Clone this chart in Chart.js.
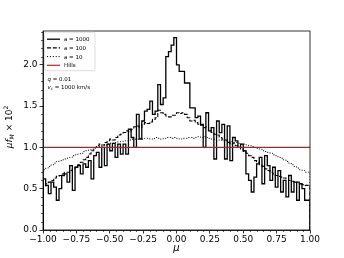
<!DOCTYPE html>
<html>
<head>
<meta charset="utf-8">
<script src="https://cdn.jsdelivr.net/npm/chart.js@4/dist/chart.umd.min.js"></script>
<style>
  html, body { margin: 0; padding: 0; background: #fff; }
</style>
</head>
<body>
<canvas id="histChart" width="344" height="258"></canvas>
<script>
// histogramas de mu (100 bins entre -1 y 1)
const seriesLabels = ['a = 1000', 'a = 100', 'a = 10', 'Hills'];
const xTickValues = [-1, -0.75, -0.5, -0.25, 0, 0.25, 0.5, 0.75, 1];
const yTickValues = [0, 0.5, 1.0, 1.5, 2.0];
const noteLines = ['q = 0.01', 'v_c = 1000 km/s'];

const a1000 = [
    0.50, 0.62, 0.54, 0.44, 0.58, 0.52, 0.36, 0.50, 0.66, 0.68,
    0.58, 0.78, 0.48, 0.76, 0.78, 0.68, 0.80, 0.76, 0.84, 0.62,
    0.90, 0.94, 0.76, 1.00, 0.78, 1.04, 0.96, 1.05, 0.88, 1.04,
    0.92, 1.04, 0.92, 1.22, 1.12, 1.00, 1.40, 1.10, 1.32, 1.44,
    1.46, 1.56, 1.40, 1.44, 1.76, 1.52, 1.60, 2.10, 2.16, 2.24,
    2.33, 2.00, 1.92, 1.92, 1.78, 1.78, 1.48, 1.48, 1.36, 1.38,
    1.28, 1.00, 1.42, 1.20, 1.24, 0.86, 1.32, 1.18, 1.28, 0.86,
    1.26, 0.84, 1.12, 1.08, 1.00, 1.04, 0.96, 0.68, 0.60, 0.46,
    0.64, 0.80, 0.88, 0.56, 0.90, 0.78, 0.60, 0.76, 0.52, 0.72,
    0.46, 0.60, 0.40, 0.66, 0.46, 0.58, 0.36, 0.56, 0.50, 0.36
];
const a100 = [
    0.50, 0.53, 0.56, 0.58, 0.60, 0.63, 0.65, 0.66, 0.68, 0.70,
    0.70, 0.72, 0.74, 0.76, 0.79, 0.82, 0.85, 0.88, 0.92, 0.96,
    1.00, 1.02, 1.04, 1.03, 1.06, 1.08, 1.10, 1.09, 1.12, 1.15,
    1.16, 1.18, 1.20, 1.19, 1.22, 1.25, 1.26, 1.24, 1.28, 1.30,
    1.29, 1.31, 1.34, 1.36, 1.45, 1.42, 1.40, 1.38, 1.37, 1.39,
    1.39, 1.42, 1.41, 1.42, 1.40, 1.36, 1.32, 1.33, 1.30, 1.28,
    1.27, 1.24, 1.25, 1.20, 1.18, 1.16, 1.15, 1.12, 1.10, 1.09,
    1.06, 1.04, 1.05, 1.02, 1.00, 0.98, 0.95, 0.93, 0.90, 0.88,
    0.84, 0.82, 0.79, 0.77, 0.74, 0.72, 0.70, 0.68, 0.66, 0.65,
    0.64, 0.63, 0.62, 0.60, 0.59, 0.58, 0.58, 0.56, 0.55, 0.54
];
const a10 = [
    0.70, 0.73, 0.75, 0.77, 0.79, 0.81, 0.83, 0.84, 0.85, 0.86,
    0.87, 0.88, 0.90, 0.91, 0.92, 0.93, 0.95, 0.96, 0.97, 0.98,
    0.99, 1.00, 1.01, 1.02, 1.03, 1.04, 1.05, 1.05, 1.06, 1.07,
    1.07, 1.08, 1.08, 1.09, 1.10, 1.10, 1.10, 1.11, 1.10, 1.11,
    1.11, 1.10, 1.11, 1.12, 1.11, 1.10, 1.11, 1.12, 1.12, 1.11,
    1.12, 1.11, 1.10, 1.11, 1.11, 1.12, 1.12, 1.11, 1.12, 1.13,
    1.12, 1.13, 1.12, 1.11, 1.10, 1.10, 1.09, 1.09, 1.08, 1.08,
    1.07, 1.07, 1.06, 1.06, 1.05, 1.04, 1.04, 1.03, 1.02, 1.01,
    1.00, 0.99, 0.98, 0.96, 0.95, 0.94, 0.93, 0.91, 0.90, 0.88,
    0.87, 0.85, 0.83, 0.81, 0.79, 0.77, 0.75, 0.73, 0.72, 0.70
];
const hillsLevel = [1.0, 1.0];

const FONT = 'DejaVu Sans';
const nBins = a1000.length;
const binEdges = Array.from({ length: nBins + 1 }, (_, i) => -1 + i * 2 / nBins);

// histograma tipo "step" que baja a cero en los extremos
function toSteps(values) {
    const pts = [{ x: binEdges[0], y: 0 }];
    values.forEach((v, i) => pts.push({ x: binEdges[i], y: v }));
    pts.push({ x: binEdges[nBins], y: values[values.length - 1] });
    pts.push({ x: binEdges[nBins], y: 0 });
    return pts;
}

function fmt(v, d) {
    const s = Math.abs(v).toFixed(d);
    return v < -1e-9 ? '\u2212' + s : s;
}

const styles = [
    { color: '#000', width: 1.3, dash: [] },
    { color: '#000', width: 1.1, dash: [4, 1.8] },
    { color: '#000', width: 1.0, dash: [1.1, 1.8] },
    { color: '#ff0000', width: 1.2, dash: [] }
];

// marcas menores, marco completo, etiquetas de ejes, leyenda y nota
const decorPlugin = {
    id: 'decor',
    afterDraw(chart) {
        const ctx = chart.ctx;
        const { left, right, top, bottom } = chart.chartArea;
        const xs = chart.scales.x, ys = chart.scales.y;
        ctx.save();
        ctx.strokeStyle = '#000';
        ctx.lineWidth = 0.8;
        ctx.strokeRect(left, top, right - left, bottom - top);

        ctx.lineWidth = 0.6;
        ctx.beginPath();
        for (let k = 0; k <= 40; k++) {
            if (k % 5 === 0) continue;
            const px = Math.round(xs.getPixelForValue(-1 + k * 0.05)) + 0.5;
            ctx.moveTo(px, bottom); ctx.lineTo(px, bottom + 2);
        }
        for (let k = 1; k <= 24; k++) {
            if (k % 5 === 0) continue;
            const py = Math.round(ys.getPixelForValue(k * 0.1)) + 0.5;
            ctx.moveTo(left, py); ctx.lineTo(left - 2, py);
        }
        ctx.stroke();

        ctx.fillStyle = '#000';
        ctx.textBaseline = 'alphabetic';

        // etiqueta x
        ctx.font = 'italic 10px ' + FONT;
        ctx.textAlign = 'center';
        ctx.fillText('\u03bc', (left + right) / 2, 251);

        // etiqueta y: mu f_M x 10^2
        const parts = [
            { t: '\u03bcf', f: 'italic 9px ' + FONT, dy: 0 },
            { t: 'M', f: 'italic 6px ' + FONT, dy: 2 },
            { t: ' \u00d7 10', f: '9px ' + FONT, dy: 0 },
            { t: '2', f: '6px ' + FONT, dy: -4 }
        ];
        ctx.textAlign = 'left';
        let total = 0;
        parts.forEach(p => { ctx.font = p.f; p.w = ctx.measureText(p.t).width; total += p.w; });
        ctx.translate(11.5, 127);
        ctx.rotate(-Math.PI / 2);
        let cx = -total / 2;
        parts.forEach(p => { ctx.font = p.f; ctx.fillText(p.t, cx, p.dy); cx += p.w; });
        ctx.setTransform(1, 0, 0, 1, 0, 0);

        // leyenda
        const bx = left + 1.5, by = top + 1.2, bw = 50.5, bh = 38.5;
        ctx.beginPath();
        ctx.roundRect(bx, by, bw, bh, 2);
        ctx.fillStyle = 'rgba(255,255,255,0.85)';
        ctx.fill();
        ctx.strokeStyle = '#d0d0d0';
        ctx.lineWidth = 0.7;
        ctx.stroke();
        ctx.font = '5.5px ' + FONT;
        seriesLabels.forEach((lab, i) => {
            const y = by + 7 + i * 8.7;
            const st = styles[i];
            ctx.strokeStyle = st.color;
            ctx.lineWidth = st.width;
            ctx.setLineDash(st.dash);
            ctx.beginPath();
            ctx.moveTo(bx + 2.5, y); ctx.lineTo(bx + 15.5, y);
            ctx.stroke();
            ctx.setLineDash([]);
            ctx.fillStyle = '#000';
            ctx.fillText(lab, bx + 19.5, y + 2);
        });

        // nota q, v_c
        const nx = left + 4.5;
        ctx.font = 'italic 5.5px ' + FONT;
        ctx.fillText('q', nx, 80.5);
        let w = ctx.measureText('q').width;
        ctx.font = '5.5px ' + FONT;
        ctx.fillText(noteLines[0].slice(1), nx + w, 80.5);
        ctx.font = 'italic 5.5px ' + FONT;
        ctx.fillText('v', nx, 89);
        w = ctx.measureText('v').width;
        ctx.font = '4px ' + FONT;
        ctx.fillText('c', nx + w, 90.2);
        w += ctx.measureText('c').width;
        ctx.font = '5.5px ' + FONT;
        ctx.fillText(noteLines[1].slice(3), nx + w, 89);
        ctx.restore();
    }
};

const seriesData = [a1000, a100, a10];
const datasets = seriesData.map((vals, i) => ({
    label: seriesLabels[i],
    data: toSteps(vals),
    stepped: 'after',
    borderColor: styles[i].color,
    borderWidth: styles[i].width,
    borderDash: styles[i].dash,
    pointRadius: 0,
    fill: false,
    order: i + 1
}));
datasets.push({
    label: seriesLabels[3],
    data: hillsLevel.map((v, i) => ({ x: i === 0 ? -1 : 1, y: v })),
    borderColor: styles[3].color,
    borderWidth: styles[3].width,
    pointRadius: 0,
    fill: false,
    order: 0
});

const ctx = document.getElementById('histChart').getContext('2d');
const chart = new Chart(ctx, {
    type: 'line',
    data: { datasets: datasets },
    options: {
        responsive: false,
        animation: false,
        events: [],
        layout: { padding: { top: 31, right: 34, left: 0, bottom: 0 } },
        plugins: { legend: { display: false }, tooltip: { enabled: false } },
        scales: {
            x: {
                type: 'linear',
                min: -1,
                max: 1,
                afterFit: s => { s.height = 28; },
                afterBuildTicks: s => { s.ticks = xTickValues.map(v => ({ value: v })); },
                grid: { drawOnChartArea: false, tickLength: 3.5, color: '#000', lineWidth: 0.8 },
                border: { display: true, color: '#000', width: 0.8 },
                ticks: { padding: 1, color: '#000', maxRotation: 0, autoSkip: false,
                         font: { family: FONT, size: 9 }, callback: v => fmt(v, 2) }
            },
            y: {
                type: 'linear',
                min: 0,
                max: 2.41,
                afterFit: s => { s.width = 43; },
                afterBuildTicks: s => { s.ticks = yTickValues.map(v => ({ value: v })); },
                grid: { drawOnChartArea: false, tickLength: 3.5, color: '#000', lineWidth: 0.8 },
                border: { display: true, color: '#000', width: 0.8 },
                ticks: { padding: 2, color: '#000', font: { family: FONT, size: 9 },
                         callback: v => fmt(v, 1) }
            }
        }
    },
    plugins: [decorPlugin]
});
</script>
</body>
</html>
